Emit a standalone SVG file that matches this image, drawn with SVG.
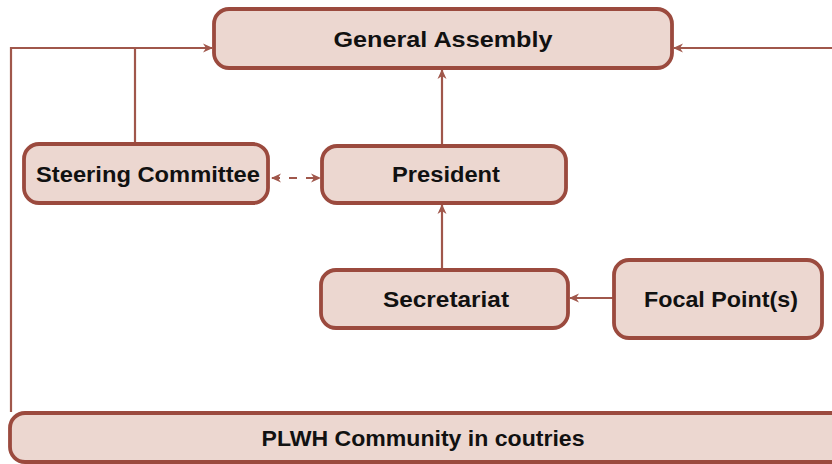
<svg xmlns="http://www.w3.org/2000/svg" width="832" height="464" viewBox="0 0 832 464">
<style>
.box{fill:#ecd7d0;stroke:#9b4a3e;stroke-width:3.8}
.lbl{font-family:"Liberation Sans",Arial,sans-serif;font-weight:bold;font-size:22.5px;fill:#111;text-anchor:middle;dominant-baseline:central}
.ln{fill:none;stroke:#a0574b;stroke-width:2.2}
.dash{stroke-dasharray:8 9}
</style>
<defs>
<marker id="ah" viewBox="0 0 10 10" refX="9" refY="5" markerWidth="10" markerHeight="10" markerUnits="userSpaceOnUse" orient="auto-start-reverse">
<path d="M0,0.5 L10,5 L0,9.5 L3,5 Z" fill="#a0574b"/>
</marker>
</defs>
<rect width="832" height="464" fill="#fff"/>
<g id="connectors">
<path class="ln" d="M11,412 V48 H212" marker-end="url(#ah)"/>
<path class="ln" d="M135,143 V48"/>
<path class="ln" d="M832,48 H674" marker-end="url(#ah)"/>
<path class="ln" d="M442,146 V70" marker-end="url(#ah)"/>
<path class="ln" d="M442,270 V205" marker-end="url(#ah)"/>
<path class="ln" d="M614,298 H570" marker-end="url(#ah)"/>
<path class="ln dash" d="M272,178 H320" marker-start="url(#ah)" marker-end="url(#ah)"/>
</g>
<g id="general-assembly">
<rect class="box" x="214" y="9" width="458" height="59" rx="15"/>
<text class="lbl" x="443" y="39" textLength="219" lengthAdjust="spacingAndGlyphs">General Assembly</text>
</g>
<g id="steering-committee">
<rect class="box" x="24" y="144" width="244" height="59" rx="15"/>
<text class="lbl" x="148" y="174" textLength="224" lengthAdjust="spacingAndGlyphs">Steering Committee</text>
</g>
<g id="president">
<rect class="box" x="322" y="146" width="244" height="57" rx="15"/>
<text class="lbl" x="446" y="174" textLength="108" lengthAdjust="spacingAndGlyphs">President</text>
</g>
<g id="secretariat">
<rect class="box" x="321" y="270" width="247" height="58" rx="15"/>
<text class="lbl" x="446" y="299" textLength="126" lengthAdjust="spacingAndGlyphs">Secretariat</text>
</g>
<g id="focal-points">
<rect class="box" x="614" y="260" width="208" height="78" rx="15"/>
<text class="lbl" x="721" y="299" textLength="154" lengthAdjust="spacingAndGlyphs">Focal Point(s)</text>
</g>
<g id="plwh-community">
<rect class="box" x="10" y="413" width="840" height="49" rx="15"/>
<text class="lbl" x="423" y="438" textLength="323" lengthAdjust="spacingAndGlyphs">PLWH Community in coutries</text>
</g>
</svg>
